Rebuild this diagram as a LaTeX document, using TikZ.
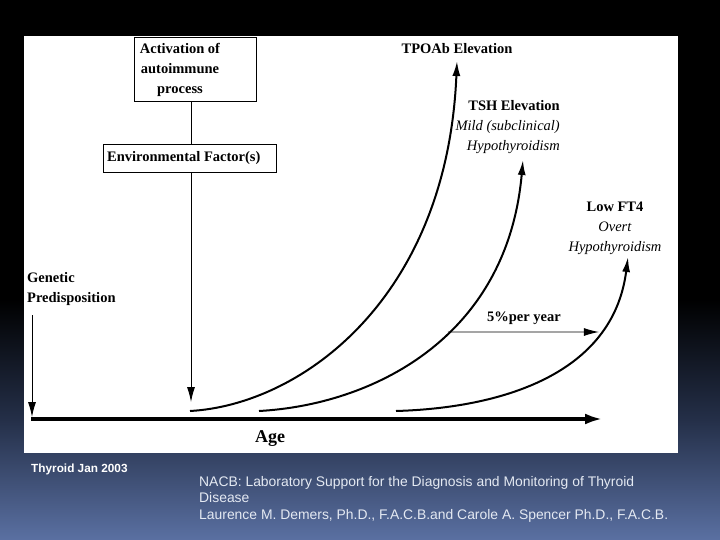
\documentclass[tikz,border=0pt]{standalone}
\usepackage{fontspec}
\setmainfont{Liberation Serif}
\newfontfamily\citefont{Liberation Sans}
\usetikzlibrary{arrows.meta,intersections}
\definecolor{bgblue}{RGB}{90,112,162}
\definecolor{bgmid}{RGB}{36,47,72}
\definecolor{citecol}{RGB}{228,233,242}
\tikzset{
  lbl/.style={font=\fontsize{14.5}{20}\selectfont\bfseries, inner sep=0pt},
  thinbox/.style={draw=black, line width=0.9pt, fill=white},
  thin/.style={draw=black, line width=0.9pt},
  thinarrow/.style={thin, -{Latex[length=15pt,width=8pt]}},
  curvearrow/.style={draw=black, line width=2pt, -{Latex[length=15pt,width=8pt]}},
  axisarrow/.style={draw=black, line width=3.2pt, -{Latex[length=17pt,width=11pt]}},
}
\begin{document}
\begin{tikzpicture}[x=1pt,y=-1pt]
\useasboundingbox (0,0) rectangle (720,540);
% background
\fill[black] (0,0) rectangle (720,300);
\shade[top color=black, bottom color=bgblue, middle color=bgmid] (0,299) rectangle (720,540);
% white panel
\fill[white] (24,36) rectangle (678,453);

% boxes
\node[thinbox, minimum width=122pt, minimum height=64pt, inner sep=0pt] (act) at (195,69) {};
\node[lbl, align=center] (acttext) at (180,70) {Activation of\\autoimmune\\process};
\node[thinbox, minimum width=173pt, minimum height=28pt, inner sep=0pt] (env) at (189.5,158) {};
\node[lbl, anchor=west] (envtext) at (107,158) {Environmental Factor(s)};

\coordinate (cx) at (191,0);
\coordinate (envtip) at (191,402);
\draw[thin] (cx |- act.south) -- (cx |- env.north);
\draw[thinarrow] (cx |- env.south) -- (envtip);

% genetic predisposition
\node[lbl, align=left, anchor=west] (gen) at (27,289) {Genetic\\Predisposition};
\coordinate (gstart) at (32,315);
\coordinate (gtip) at (32,417);
\draw[thinarrow] (gstart) -- (gtip);

% axis
\coordinate (ax0) at (31,419);
\coordinate (ax1) at (602,419);
\draw[axisarrow] (ax0) -- (ax1);
\node[lbl, font=\fontsize{18}{20}\selectfont\bfseries] (age) at (270,439) {Age};

% curves
\coordinate (c1s) at (190,411);
\coordinate (c1e) at (457,61);
\coordinate (c2s) at (259,411);
\coordinate (c2e) at (523,160);
\coordinate (c3s) at (396,411);
\coordinate (c3e) at (628,257);
\draw[curvearrow, name path=cA] (c1s) .. controls (300,405) and (447,300) .. (c1e);
\draw[curvearrow, name path=cB] (c2s) .. controls (370,405) and (507,340) .. (c2e);
\draw[curvearrow, name path=cC] (c3s) .. controls (500,408) and (613,375) .. (c3e);

% 5% per year arrow
\path[name path=hline] (400,332) -- (700,332);
\path[name intersections={of=cB and hline, by=pB}];
\path[name intersections={of=cC and hline, by=pC}];
\draw[thinarrow] (pB) -- (pC);
\node[lbl] (rate) at (524,318) {5\%per year};

% labels
\node[lbl] (tpo) at (457,49) {TPOAb Elevation};
\node[anchor=east, align=right, inner sep=0pt, font=\fontsize{14.5}{20}\selectfont] (tsh) at (560,127)
  {\textbf{TSH Elevation}\\\textit{Mild (subclinical)}\\\textit{Hypothyroidism}};
\node[align=center, inner sep=0pt, font=\fontsize{14.5}{20}\selectfont] (ft4) at (615,228)
  {\textbf{Low FT4}\\\textit{Overt}\\\textit{Hypothyroidism}};

% footer
\node[anchor=west, inner sep=0pt, text=white, font=\citefont\fontsize{11.8}{13}\selectfont\bfseries] (src) at (31,469) {Thyroid Jan 2003};
\node[anchor=north west, align=left, inner sep=0pt, text=citecol, font=\citefont\fontsize{13.9}{16.4}\selectfont] (cite) at (199,476)
  {NACB: Laboratory Support for the Diagnosis and Monitoring of Thyroid\\Disease\\Laurence M. Demers, Ph.D., F.A.C.B.and Carole A. Spencer Ph.D., F.A.C.B.};
\end{tikzpicture}
\end{document}
